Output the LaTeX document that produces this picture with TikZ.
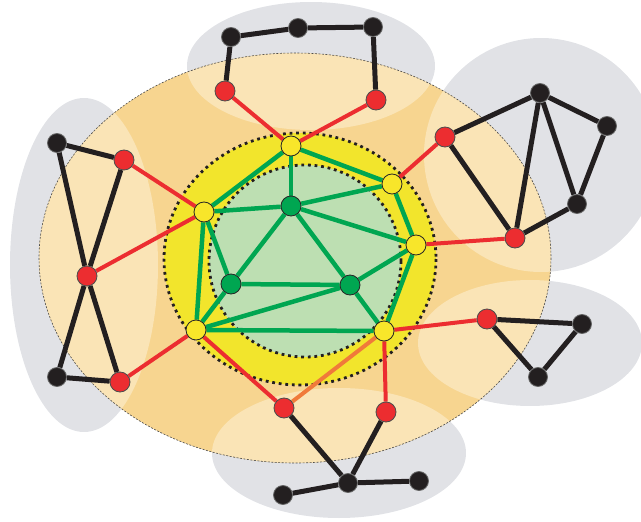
\documentclass[tikz,border=0pt]{standalone}
\usepackage{tikz}
\usetikzlibrary{positioning, backgrounds}
\definecolor{blobgray}{HTML}{E1E2E6}
\definecolor{zoneorange}{HTML}{F7D590}
\definecolor{zonelight}{HTML}{FAE4B6}
\definecolor{ringyellow}{HTML}{F2E52C}
\definecolor{coregreen}{HTML}{BDDFB2}
\definecolor{linkgreen}{HTML}{00A651}
\definecolor{gatered}{HTML}{EC2D30}
\definecolor{nodeblack}{HTML}{231F20}
\definecolor{nodeyellow}{HTML}{F8E62A}
\definecolor{linkorange}{HTML}{F07A3A}
\pgfdeclarelayer{zones}
\pgfdeclarelayer{links}
\pgfsetlayers{zones,links,main}
\tikzset{
  corenode/.style={
    circle, draw=black!85, fill=linkgreen, line width=0.8pt,
    minimum size=20pt, inner sep=0pt
  },
  ringnode/.style={
    circle, draw=black!85, fill=nodeyellow, line width=0.8pt,
    minimum size=20pt, inner sep=0pt
  },
  gatenode/.style={
    circle, draw=black!70, fill=gatered, line width=0.8pt,
    minimum size=20pt, inner sep=0pt
  },
  extnode/.style={
    circle, draw=black!60, fill=nodeblack, line width=0.8pt,
    minimum size=19pt, inner sep=0pt
  },
  corelink/.style={linkgreen, line width=4.5pt},
  gatelink/.style={gatered, line width=4pt},
  extlink/.style={nodeblack, line width=5pt},
  crosslink/.style={linkorange, line width=4pt},
  dotring/.style={draw=nodeblack, line width=2.8pt, dash pattern=on 2.8pt off 3.8pt},
}

\begin{document}
\begin{tikzpicture}[x=1pt, y=-1pt]
  \useasboundingbox (0,0) rectangle (641,522);

  % === Nodes: core ===
  \node[corenode] (c1) at (291,206) {};
  \node[corenode] (c2) at (231,284) {};
  \node[corenode] (c3) at (350,285) {};

  % === Nodes: ring ===
  \node[ringnode] (r1) at (291,146) {};
  \node[ringnode] (r2) at (392,184) {};
  \node[ringnode] (r3) at (416,245) {};
  \node[ringnode] (r4) at (384,331) {};
  \node[ringnode] (r5) at (196,330) {};
  \node[ringnode] (r6) at (204,212) {};

  % === Cluster: top ===
  \node[gatenode] (tg1) at (225,91) {};
  \node[gatenode] (tg2) at (376,100) {};
  \node[extnode] (tx1) at (231,37) {};
  \node[extnode] (tx2) at (298,28) {};
  \node[extnode] (tx3) at (373,27) {};

  % === Cluster: right upper ===
  \node[gatenode] (ug1) at (445,137) {};
  \node[gatenode] (ug2) at (515,238) {};
  \node[extnode] (ux1) at (540,93) {};
  \node[extnode] (ux2) at (607,126) {};
  \node[extnode] (ux3) at (577,204) {};

  % === Cluster: right lower ===
  \node[gatenode] (lg1) at (487,319) {};
  \node[extnode] (lx1) at (582,324) {};
  \node[extnode] (lx2) at (538,377) {};

  % === Cluster: bottom ===
  \node[gatenode] (bg1) at (284,408) {};
  \node[gatenode] (bg2) at (386,412) {};
  \node[extnode] (bx1) at (348,483) {};
  \node[extnode] (bx2) at (419,481) {};
  \node[extnode] (bx3) at (283,495) {};

  % === Cluster: left ===
  \node[gatenode] (wg1) at (124,160) {};
  \node[gatenode] (wg2) at (87,276) {};
  \node[gatenode] (wg3) at (120,382) {};
  \node[extnode] (wx1) at (57,143) {};
  \node[extnode] (wx2) at (57,377) {};

  % === Zones ===
  \begin{pgfonlayer}{zones}
    \fill[blobgray] (311,66) ellipse [x radius=124, y radius=64];
    \fill[blobgray] (541,155) ellipse [x radius=117, y radius=117];
    \fill[blobgray] (530,343) ellipse [x radius=112, y radius=63];
    \fill[blobgray] (339,453) ellipse [x radius=127, y radius=65];
    \fill[blobgray] (84,265) ellipse [x radius=74, y radius=167];
    \fill[zoneorange] (295,258) ellipse [x radius=256, y radius=205];
    \begin{scope}
      \clip (295,258) ellipse [x radius=256, y radius=205];
      \fill[zonelight] (311,66) ellipse [x radius=124, y radius=64];
      \fill[zonelight] (541,155) ellipse [x radius=117, y radius=117];
      \fill[zonelight] (530,343) ellipse [x radius=112, y radius=63];
      \fill[zonelight] (339,453) ellipse [x radius=127, y radius=65];
      \fill[zonelight] (84,265) ellipse [x radius=74, y radius=167];
    \end{scope}
    \draw[black!70, line width=0.6pt, dash pattern=on 2pt off 1.5pt]
      (295,258) ellipse [x radius=256, y radius=205];
    \fill[ringyellow] (300,259) ellipse [x radius=136, y radius=126];
    \draw[dotring] (300,259) ellipse [x radius=136, y radius=126];
    \fill[coregreen] (305,261) circle [radius=96];
    \draw[dotring] (305,261) circle [radius=96];
  \end{pgfonlayer}

  % === Links ===
  \begin{pgfonlayer}{links}
    \foreach \a/\b in {r1/r2, r2/r3, r3/r4, r4/r5, r5/r6, r6/r1,
                       c1/r1, c1/r6, c1/r2, c1/r3, c1/c2, c1/c3,
                       c2/c3, c2/r6, c2/r5, c3/r5, c3/r3, c3/r4}
      \draw[corelink] (\a) -- (\b);
    \foreach \a/\b in {tg1/r1, tg2/r1, ug1/r2, ug2/r3, lg1/r4,
                       bg2/r4, bg1/r5, wg1/r6, wg2/r6, wg3/r5}
      \draw[gatelink] (\a) -- (\b);
    \draw[crosslink] (r4) -- (bg1);
    \foreach \a/\b in {tg1/tx1, tx1/tx2, tx2/tx3, tx3/tg2,
                       ug1/ux1, ug1/ug2, ux1/ug2, ux1/ux2, ux1/ux3, ux2/ux3, ux3/ug2,
                       lg1/lx1, lx1/lx2, lx2/lg1,
                       bg1/bx1, bg2/bx1, bx1/bx2, bx3/bx1,
                       wx1/wg1, wx1/wg2, wg1/wg2, wg2/wx2, wg2/wg3, wx2/wg3}
      \draw[extlink] (\a) -- (\b);
  \end{pgfonlayer}

\end{tikzpicture}
\end{document}
